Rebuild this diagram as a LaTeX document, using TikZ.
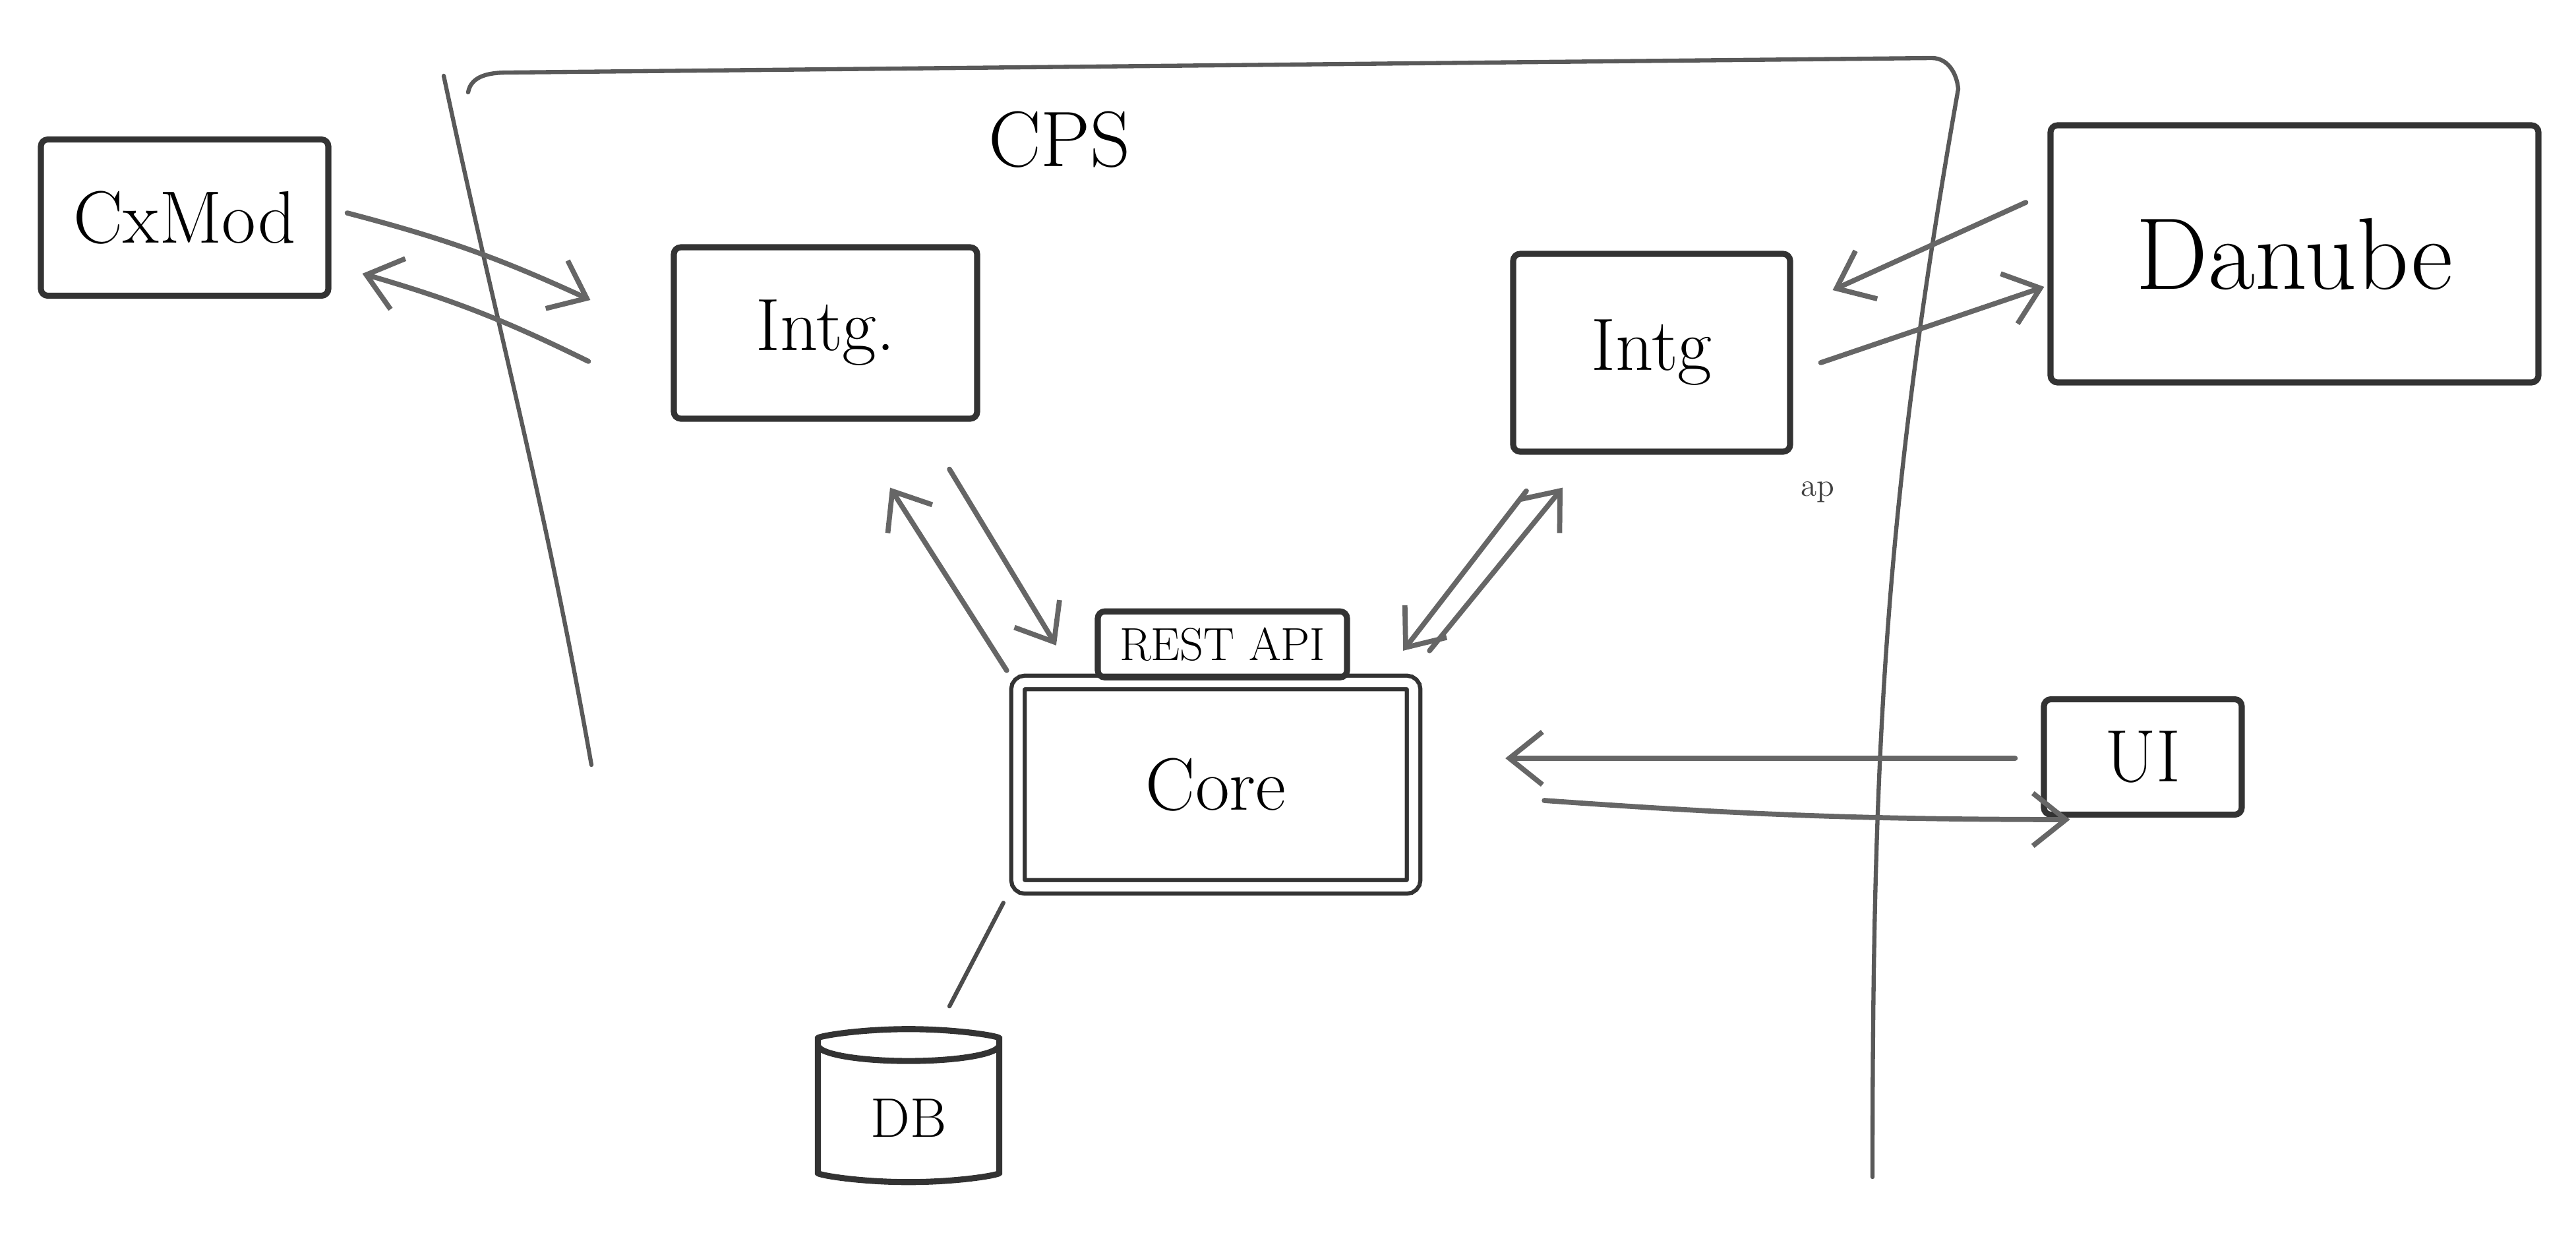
\documentclass[tikz,border=0pt]{standalone}
\usepackage{tikz}
\usetikzlibrary{positioning}
\usetikzlibrary{arrows.meta}
\usetikzlibrary{shapes.geometric}

\begin{document}
\begin{tikzpicture}[
    box/.style={draw=black!80, line width=2.6pt, rounded corners=3pt, font=\fontsize{32}{36}\selectfont},
    flow/.style={draw=black!60, line width=2.2pt, line cap=round, -{Straight Barb[length=5mm,width=8mm]}},
    plain/.style={draw=black!70, line width=1.8pt, line cap=round},
    boundary/.style={draw=black!65, line width=1.8pt, line cap=round}
  ]
                \useasboundingbox (0,0) rectangle (39.07,-18.73);

                % the CPS area
                \draw[boundary] (6.73,-1.15) to[out=-78,in=100] (8.97,-11.60);
                \draw[boundary] (7.10,-1.40) to[out=80,in=180] (7.70,-1.10) -- (29.30,-0.88)
                    to[out=0,in=95] (29.70,-1.35) to[out=-100,in=90] (28.40,-17.85);
                \node(cps) at (16.07,-2.12) {\fontsize{34}{38}\selectfont CPS};

                \node(cxmod) [box, minimum width=4.36cm, minimum height=2.37cm] at (2.80,-3.30) {CxMod};
                \node(intgl) [box, minimum width=4.6cm, minimum height=2.6cm] at (12.52,-5.05) {Intg.};
                \node(intgr) [box, minimum width=4.2cm, minimum height=3.0cm] at (25.05,-5.35) {Intg};
                \node(danube) [box, minimum width=7.4cm, minimum height=3.9cm, font=\fontsize{44}{48}\selectfont] at (34.80,-3.85) {Danube};
                \node(core) [box, double, double distance=4pt, line width=1.8pt, minimum width=6.0cm, minimum height=3.1cm] at (18.44,-11.90) {Core};
                \node(rest) [box, above=0pt of core, xshift=1mm, minimum width=3.78cm, minimum height=1.0cm, font=\fontsize{20}{24}\selectfont] {REST API};
                \node(db) [box, cylinder, shape border rotate=90, aspect=0.35, minimum width=2.75cm, minimum height=2.32cm, font=\fontsize{24}{28}\selectfont] at (13.78,-16.96) {DB};
                \node(ui) [box, minimum width=3.0cm, minimum height=1.75cm] at (32.50,-11.48) {UI};
                \node(note) [font=\fontsize{14}{16}\selectfont, text=black!75] at (27.57,-7.46) {ap};

                \draw[flow] ([shift={(0.24,0.07)}]cxmod.east) to[bend left=5] ([shift={(-1.22,0.50)}]intgl.west);
                \draw[flow] ([shift={(-1.25,-0.43)}]intgl.west) to[bend right=5] ([shift={(0.47,-0.85)}]cxmod.east);
                \draw[flow] ([shift={(1.88,-0.72)}]intgl.south) -- ([shift={(0.61,0.53)}]core.north west);
                \draw[flow] ([shift={(-0.14,0.15)}]core.north west) -- ([shift={(0.98,-1.00)}]intgl.south);
                \draw[flow] ([shift={(-1.90,-0.55)}]intgr.south) -- ([shift={(-0.19,0.45)}]core.north east);
                \draw[flow] ([shift={(0.21,0.45)}]core.north east) -- ([shift={(-1.35,-0.50)}]intgr.south);
                \draw[flow] ([shift={(-0.33,0.78)}]danube.west) -- ([shift={(0.60,0.95)}]intgr.east);
                \draw[flow] ([shift={(0.42,-0.15)}]intgr.east) -- ([shift={(-0.05,-0.50)}]danube.west);
                \draw[flow] ([shift={(-0.39,-0.02)}]ui.west) -- ([shift={(1.36,0.40)}]core.east);
                \draw[flow] ([shift={(1.95,-0.24)}]core.east) to[bend right=2] ([shift={(0.44,-0.95)}]ui.west);
                \draw[plain] ([shift={(-0.19,-0.21)}]core.south west) -- ([shift={(0.62,0.30)}]db.north);
\end{tikzpicture}
\end{document}
